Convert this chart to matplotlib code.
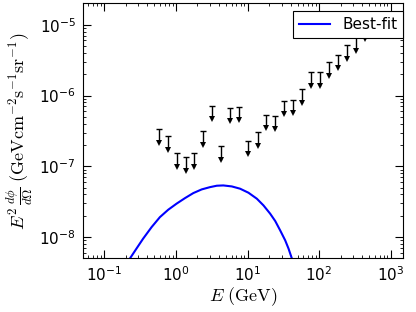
import numpy as np
import matplotlib
matplotlib.use("Agg")
import matplotlib.pyplot as plt

plt.rcParams['mathtext.fontset'] = 'cm'
plt.rcParams['font.family'] = 'DejaVu Sans'

# upper limits (energy in GeV, E^2 dphi/dOmega in GeV cm^-2 s^-1 sr^-1)
ul_energy = [0.573, 0.765, 1.02, 1.37, 1.80, 2.41, 3.22, 4.27, 5.70, 7.63,
             10.1, 13.8, 18.4, 24.4, 32.6, 43.1, 57.6, 77.0, 103, 138,
             184, 246, 329, 440]
ul_flux = [3.38e-7, 2.66e-7, 1.55e-7, 1.34e-7, 1.53e-7, 3.13e-7, 7.21e-7,
           1.92e-7, 6.75e-7, 6.97e-7, 2.31e-7, 3.03e-7, 5.38e-7, 5.21e-7,
           8.47e-7, 8.75e-7, 1.22e-6, 2.12e-6, 2.12e-6, 2.94e-6, 3.77e-6,
           5.17e-6, 6.67e-6, 9.8e-6]

# best-fit spectrum
fit_energy = [0.18, 0.227, 0.281, 0.348, 0.457, 0.597, 0.780, 1.02, 1.34,
              1.75, 2.29, 2.99, 3.72, 4.59, 6.03, 7.87, 10.3, 13.5, 16.7,
              20.7, 24.4, 28.6, 33.6, 37.4, 41.7, 48.0]
fit_flux = [3.5e-9, 4.95e-9, 6.86e-9, 9.48e-9, 1.38e-8, 1.91e-8, 2.43e-8,
            2.96e-8, 3.55e-8, 4.18e-8, 4.71e-8, 5.07e-8, 5.31e-8, 5.36e-8,
            5.19e-8, 4.82e-8, 4.23e-8, 3.48e-8, 2.80e-8, 2.14e-8, 1.68e-8,
            1.24e-8, 8.97e-9, 6.86e-9, 4.95e-9, 3.5e-9]

fig = plt.figure(figsize=(4.16, 3.12), dpi=100)
ax = fig.add_axes([0.199, 0.172, 0.7705, 0.817])

ax.plot(fit_energy, fit_flux, color='#0000ff', lw=1.5, label='Best-fit')

# upper-limit arrows: cap at the limit, shaft down, filled head
ul_flux = np.array(ul_flux)
ul_low = ul_flux * 0.64
ax.vlines(ul_energy, ul_low, ul_flux, color='k', lw=1.0)
ax.plot(ul_energy, ul_flux, ls='none', marker='_', ms=4, mew=1.0, color='k')
ax.plot(ul_energy, ul_low, ls='none', marker='v', ms=4.5, mew=0,
        color='k')

ax.set_xscale('log')
ax.set_yscale('log')
ax.set_xlim(0.05, 1500)
ax.set_ylim(5e-9, 2e-5)

ax.tick_params(which='both', direction='in', top=True, right=True,
               labelsize=11, pad=5)
ax.tick_params(which='major', length=6, width=0.8)
ax.tick_params(which='minor', length=2.5, width=0.6)

ax.set_xlabel(r'$E\ (\mathrm{GeV})$', fontsize=13, labelpad=1)
ax.set_ylabel(r'$E^2\,\frac{d\phi}{d\Omega}\ (\mathrm{GeV cm^{-2} s^{-1} sr^{-1}})$',
              fontsize=13, labelpad=3)

leg = ax.legend(loc='upper right', bbox_to_anchor=(1.0, 0.971),
                borderaxespad=0, fancybox=False, fontsize=11,
                handlelength=2.0, framealpha=1)
leg.get_frame().set_edgecolor('k')
leg.get_frame().set_linewidth(0.8)

fig.savefig('out.png', dpi=100)
